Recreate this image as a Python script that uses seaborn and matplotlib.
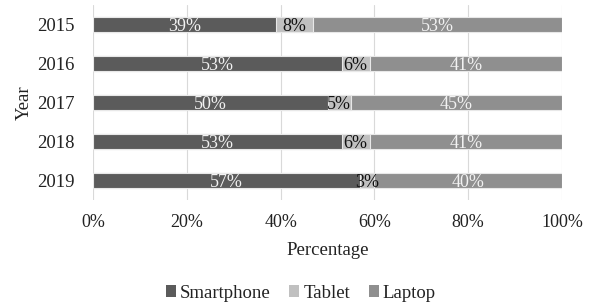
import matplotlib
matplotlib.use("Agg")
import matplotlib.pyplot as plt
import seaborn as sns
import numpy as np
import pandas as pd
from matplotlib.patches import Patch

years = ["2015", "2016", "2017", "2018", "2019"]
smartphone = [39, 53, 50, 53, 57]
tablet = [8, 6, 5, 6, 3]
laptop = [53, 41, 45, 41, 40]
series_names = ["Smartphone", "Tablet", "Laptop"]
colors = ["#5b5b5b", "#c0c0c0", "#8f8f8f"]
label_colors = ["#f2f2f2", "#111111", "#f2f2f2"]
xticks = [0, 20, 40, 60, 80, 100]
xticklabels = ["0%", "20%", "40%", "60%", "80%", "100%"]

sns.set_theme(style="white")
plt.rcParams["font.family"] = ["Liberation Serif", "DejaVu Serif"]

fig = plt.figure(figsize=(5.92, 3.06), dpi=100)
ax = fig.add_axes([93 / 592, 1 - 200 / 306, 469 / 592, 195 / 306])

series = [smartphone, tablet, laptop]
cums = np.cumsum(np.array(series, dtype=float), axis=0)
df = pd.DataFrame({"Year": years})

# draw from the largest cumulative total down so segments appear stacked
for i in range(len(series) - 1, -1, -1):
    df["val"] = cums[i]
    sns.barplot(data=df, x="val", y="Year", orient="h", color=colors[i],
                width=0.4, edgecolor="#e8e8e8", linewidth=0.8,
                saturation=1, ax=ax, zorder=2)

# labels
for i, vals in enumerate(series):
    starts = cums[i] - np.array(vals)
    for j, v in enumerate(vals):
        ax.text(starts[j] + v / 2, j + 0.05, f"{v}%", ha="center", va="center",
                fontsize=13, color=label_colors[i], zorder=3)

ax.set_xlim(0, 100)
ax.set_ylim(4.5, -0.5)
ax.set_xticks(xticks)
ax.set_xticklabels(xticklabels)
ax.xaxis.grid(True, color="#d9d9d9", linewidth=0.8, zorder=0)
ax.yaxis.grid(False)
ax.set_axisbelow(True)
for s in ax.spines.values():
    s.set_visible(False)
ax.tick_params(axis="x", length=0, pad=10, labelsize=13, colors="#222222")
ax.tick_params(axis="y", length=0, pad=13, labelsize=13.5, colors="#222222")

ax.set_xlabel("Percentage", fontsize=13.5, color="#222222")
ax.set_ylabel("Year", fontsize=13.5, color="#222222")
ax.xaxis.set_label_coords(0.5, -0.215)
ax.yaxis.set_label_coords(-0.128, 0.5)

handles = [Patch(facecolor=c, edgecolor="none") for c in colors]
fig.legend(handles, series_names, loc="center", bbox_to_anchor=(0.508, 1 - 293 / 306),
           ncol=3, frameon=False, fontsize=13.5, handlelength=0.55, handleheight=0.55,
           handletextpad=0.2, columnspacing=1.0, labelcolor="#222222")

fig.savefig("out.png", dpi=100)
